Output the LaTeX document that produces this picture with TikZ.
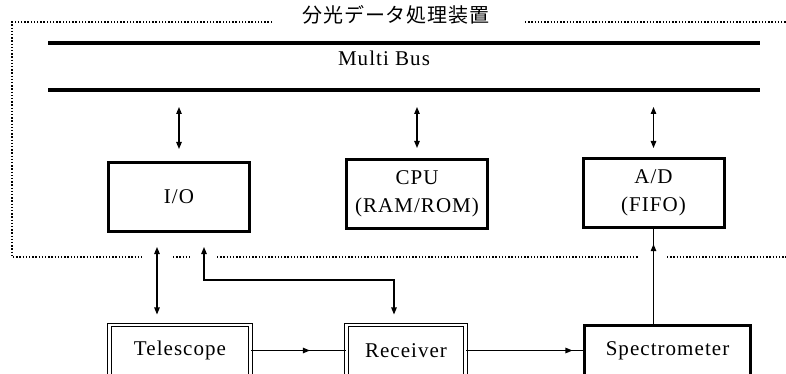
\documentclass[tikz,border=0pt]{standalone}
\usepackage{fontspec}
\setmainfont{Liberation Serif}[LetterSpace=5]
\newfontfamily\cjk{Noto Sans CJK JP}[LetterSpace=4]
\usetikzlibrary{arrows.meta,calc}
\newcommand{\lbl}{\fontsize{21}{28}\selectfont}
\tikzset{
  thickbox/.style={draw, line width=3pt, minimum width=141pt, minimum height=69pt, align=center, inner sep=0pt, font=\lbl},
  dblbox/.style={draw, line width=1.1pt, double, double distance=2.6pt, minimum height=51pt, inner sep=0pt, font=\lbl},
  specbox/.style={draw, line width=3pt, minimum height=51pt, inner sep=0pt, font=\lbl},
  tip/.style={-{Triangle[length=7pt,width=5.5pt]}},
  conn/.style={line width=1.1pt},
  biconn/.style={line width=1.1pt, {Triangle[length=7pt,width=5.5pt]}-{Triangle[length=7pt,width=5.5pt]}},
  bus/.style={line width=3.2pt},
  frame/.style={line width=1.1pt, dash pattern=on 1.4pt off 1.8pt}
}
\begin{document}
\begin{tikzpicture}[x=1pt,y=-1pt]
\clip (0,0) rectangle (786,374);
\useasboundingbox (0,0) rectangle (786,374);
% frame
\coordinate (f1) at (12,22);
\coordinate (f2) at (272,22);
\coordinate (f3) at (525,22);
\coordinate (f4) at (790,22);
\coordinate (f5) at (12,257);
\node[font=\cjk\fontsize{20}{22}\selectfont, inner sep=0pt] (title) at (396,15) {分光データ処理装置};
\draw[frame] (f2) -- (f1) -- (f5) -- (143,257);
\draw[frame] (f3) -- (f4);
\draw[frame] (173,257) -- (190,257);
\draw[frame] (217,257) -- (638,257);
\draw[frame] (667,257) -- (790,257);
% bus
\coordinate (bt1) at (48,43);
\coordinate (bt2) at (760,43);
\coordinate (bb1) at (48,90);
\coordinate (bb2) at (760,90);
\draw[bus] (bt1) -- (bt2);
\draw[bus] (bb1) -- (bb2);
\node[font=\lbl, anchor=base, inner sep=0pt] (busl) at (384,66) {Multi Bus};
% boxes
\node[thickbox] (io) at (179,197) {I/O};
\node[thickbox] (cpu) at (417,194) {CPU\\(RAM/ROM)};
\node[thickbox] (ad) at (653.5,193) {A/D\\(FIFO)};
\node[dblbox, minimum width=141pt] (tel) at (180,350.5) {Telescope};
\node[dblbox, minimum width=119pt] (rec) at (406,350.5) {Receiver};
\node[specbox, minimum width=166pt] (spec) at (667.5,350.5) {Spectrometer};
% bus arrows
\draw[biconn, shorten <=17pt, shorten >=12pt] (io.north |- bb1) -- (io.north);
\draw[biconn, shorten <=17pt, shorten >=10pt] (cpu.north |- bb1) -- (cpu.north);
\draw[biconn, shorten <=17pt, shorten >=9pt] (ad.north |- bb1) -- (ad.north);
% io lower arrows
\draw[biconn, shorten <=14pt, shorten >=10pt] ([xshift=-22pt]io.south) -- ([xshift=-22pt]io.south |- tel.north);
\draw[biconn, shorten <=14pt, shorten >=10pt] ([xshift=25pt]io.south) -- ++(0,47) -| ([xshift=-12pt]rec.north);
% signal chain
\draw[conn] (tel.east) -- (rec.west);
\draw[conn, tip] (tel.east) -- ($(tel.east)!0.62!(rec.west)$);
\draw[conn] (rec.east) -- (spec.west);
\draw[conn, tip] (rec.east) -- ($(rec.east)!0.91!(spec.west)$);
\draw[conn] (ad.south |- spec.north) -- (ad.south);
\draw[conn, tip] (ad.south |- spec.north) -- ($(ad.south |- spec.north)!0.84!(ad.south)$);
\end{tikzpicture}
\end{document}
